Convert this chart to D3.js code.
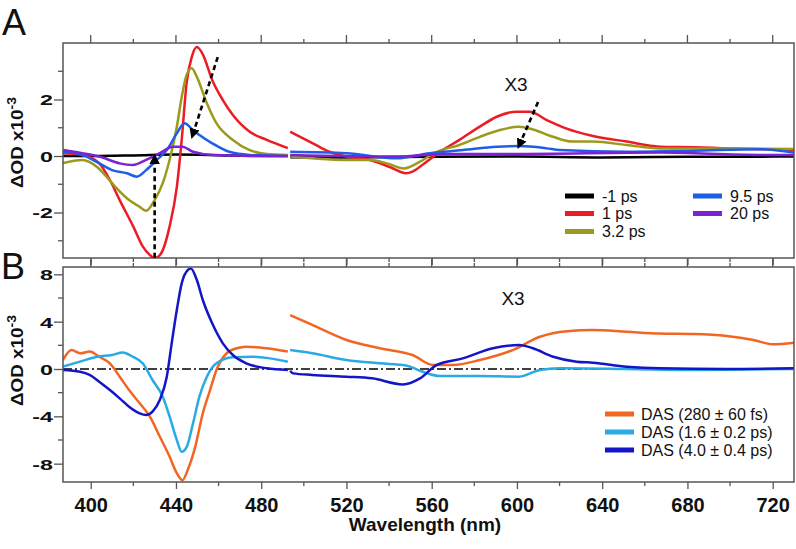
<!DOCTYPE html>
<html><head><meta charset="utf-8">
<script src="https://cdn.jsdelivr.net/npm/d3@7"></script>
<style>body{margin:0;background:#fff}svg{display:block;font-family:"Liberation Sans",Arial,sans-serif}</style>
</head><body><svg id="c" width="796" height="549"></svg>
<script>
// ---------- data ----------
const xDomain = [387, 730];
const xTicksMajor = [400, 440, 480, 520, 560, 600, 640, 680, 720];
const xTicksMinor = [420, 460, 500, 540, 580, 620, 660, 700];
const yTicksA = [-2, 0, 2];
const yMinorA = [-3, -1, 1, 3];
const yTicksB = [-8, -4, 0, 4, 8];
const yMinorB = [-6, -2, 2, 6];

const labelsA = ["-1 ps", "1 ps", "3.2 ps", "9.5 ps", "20 ps"];
const colorsA = ["#000000", "#ec1c24", "#9c9a1c", "#1e5ee6", "#7a22d4"];
const labelsB = ["DAS (280 \u00b1 60 fs)", "DAS (1.6 \u00b1 0.2 ps)", "DAS (4.0 \u00b1 0.4 ps)"];
const colorsB = ["#f26522", "#2aaae2", "#1515c8"];

const sM1 = [[387,0.0],[400,0.0],[420,0.02],[440,0.05],[460,0.03],[480,0.0],[492.5,0.0],null,
  [493.6,-0.04],[520,-0.05],[560,-0.03],[600,-0.02],[640,-0.05],[680,-0.03],[730,-0.02]];
const s1 = [[387,0.1],[395,0.05],[400,-0.05],[404,-0.25],[409,-0.85],[413.6,-1.56],[420,-2.5],[424.4,-3.2],[427.7,-3.5],[430,-3.62],[433,-3.45],[437,-2.5],[440.4,-1.1],[442.7,0.57],[445,2.58],[447.4,3.5],[449.8,3.86],[452.6,3.6],[457,2.69],[462,1.98],[466.7,1.45],[474.6,0.86],[482.6,0.57],[492.5,0.28],null,
  [493.6,0.86],[504,0.46],[512,0.15],[520,-0.02],[531,-0.14],[540,-0.38],[548,-0.61],[551,-0.55],[557.6,-0.2],[564,0.15],[573,0.57],[582.6,1.04],[590.5,1.39],[599.9,1.57],[606,1.57],[614,1.27],[623,0.98],[635.7,0.71],[651.5,0.51],[667,0.33],[683,0.31],[698.5,0.27],[714,0.24],[730,0.21]];
const s32 = [[387,-0.25],[396,-0.14],[403,-0.39],[407.5,-0.74],[412,-1.13],[418,-1.56],[423,-1.8],[426,-1.94],[430,-1.56],[433.8,-0.96],[437,-0.14],[440.4,1.03],[442.7,2.09],[445,2.87],[447.4,3.11],[449.8,2.8],[454.5,1.87],[459,1.16],[466.7,0.57],[474.6,0.21],[482.6,0.07],[492.5,0.04],null,
  [493.6,-0.02],[504,-0.08],[520,-0.14],[531,-0.14],[539,-0.26],[547,-0.44],[554.5,-0.2],[562.4,0.15],[573,0.39],[582.6,0.68],[592,0.92],[601,1.04],[607.5,0.94],[616.9,0.68],[626,0.51],[635.7,0.51],[651.5,0.39],[667,0.27],[683,0.27],[698.5,0.27],[730,0.25]];
const s95 = [[387,0.15],[396,0.04],[404,-0.26],[410,-0.5],[417,-0.61],[421.6,-0.73],[426,-0.5],[431,-0.14],[435.7,0.21],[440.4,0.8],[444,1.16],[448,0.92],[451,0.74],[457,0.45],[465,0.15],[474.6,0.04],[492.5,0.0],null,
  [493.6,0.15],[520,0.1],[543.6,-0.08],[559,0.1],[574.6,0.21],[590.6,0.33],[601,0.35],[614,0.27],[620,0.21],[651.5,0.15],[683,0.19],[714,0.24],[730,0.12]];
const s20 = [[387,0.21],[396,0.1],[404,-0.02],[413.6,-0.26],[419.7,-0.32],[426,-0.14],[432.4,0.1],[438.5,0.33],[443,0.33],[448,0.15],[457,0.04],[492.5,0.0],null,
  [493.6,0.04],[543.6,-0.02],[567,0.07],[598,0.07],[667,0.12],[714,0.04],[730,0.04]];

const dasFast = [[387,0.76],[391,1.6],[395,1.33],[399.5,1.47],[404,1.04],[409,0.48],[413.6,-0.65],[418,-1.78],[423,-2.9],[427.7,-4.0],[432.4,-5.7],[437,-7.4],[440.4,-8.8],[443,-9.4],[445.6,-8.5],[449,-6.6],[452.6,-3.75],[456,-1.78],[459,-0.08],[463.8,1.33],[468.5,1.75],[473,1.89],[482.6,1.75],[492.5,1.47],null,
  [493.6,4.56],[504,3.72],[520,2.45],[535.7,1.75],[551,1.18],[560.6,0.34],[570,0.34],[582.6,0.76],[598,1.6],[610.8,2.73],[623.5,3.2],[635.7,3.3],[651.5,3.15],[667,3.0],[683,2.96],[698.5,2.79],[711,2.45],[720,2.09],[730,2.22]];
const dasMid = [[387,0.2],[395,0.62],[403,1.04],[410,1.18],[415,1.4],[419.7,1.04],[424.4,0.48],[429,-0.93],[433.8,-2.34],[437,-4.0],[440.4,-6.0],[442.7,-7.0],[445,-6.6],[448,-4.6],[451,-2.34],[454.5,-0.65],[459,0.48],[466.7,0.99],[476,1.04],[492.5,0.62],null,
  [493.6,1.6],[504,1.33],[520,0.76],[535.7,0.48],[548,0.3],[554.5,-0.15],[564,-0.6],[582.6,-0.59],[601,-0.65],[610.8,-0.08],[620,0.06],[651.5,0.0],[683,-0.08],[730,0.0]];
const dasSlow = [[387,-0.08],[395,-0.23],[399.5,-0.5],[404,-1.07],[409,-1.78],[413.6,-2.48],[418,-3.19],[423,-3.75],[426,-3.89],[429,-3.6],[432.4,-2.62],[435.7,-0.65],[438,2.17],[440.4,4.99],[442.7,7.24],[445.6,8.37],[447,8.5],[449.8,7.52],[452.6,5.83],[457,3.86],[462,2.17],[466.7,1.18],[473,0.48],[482.6,0.06],[492.5,-0.08],null,
  [493.6,-0.14],[495,-0.37],[504,-0.5],[520,-0.65],[532,-0.79],[546.5,-1.3],[554.5,-0.79],[562.4,0.34],[574.6,0.9],[588.7,1.75],[601,2.03],[607.5,1.75],[617,1.04],[628,0.62],[635.7,0.53],[651.5,0.2],[667,0.06],[698.5,0.0],[730,0.06]];

const seriesA = [sM1, s1, s32, s95, s20];
const seriesB = [dasFast, dasMid, dasSlow];
// arrows: [x0, y0, x1, y1] in data units (tip at x1,y1)
const arrowsA = [[430, -3.6, 430, 0.05], [459.6, 3.5, 447.4, 0.64], [609.9, 1.91, 600.5, 0.28]];

// ---------- layout ----------
const svg = d3.select("#c");
const L = 63, R = 794;
const x = d3.scaleLinear().domain(xDomain).range([L, R]);
const yA = d3.scaleLinear().domain([-3.61, 4.0]).range([258, 43]);
const yB = d3.scaleLinear().domain([-9.55, 8.62]).range([482, 267]);
const frameCol = "#555";
const fmt = d => String(d);

svg.append("defs").append("marker").attr("id", "ah").attr("viewBox", "0 0 10 10")
  .attr("refX", 9).attr("refY", 5).attr("markerWidth", 4).attr("markerHeight", 4.5)
  .attr("orient", "auto").append("path").attr("d", "M0,0 L10,5 L0,10 z").attr("fill", "#000");

function panel(y, series, colors, lineW) {
  const g = svg.append("g");
  const line = d3.line().defined(d => d !== null).x(d => x(d[0])).y(d => y(d[1])).curve(d3.curveMonotoneX);
  const clipId = "clip" + Math.round(y.range()[1]);
  svg.append("clipPath").attr("id", clipId).append("rect")
    .attr("x", L).attr("y", y.range()[1]).attr("width", R - L).attr("height", y.range()[0] - y.range()[1]);
  const lg = g.append("g").attr("clip-path", `url(#${clipId})`);
  series.forEach((s, i) => {
    lg.append("path").datum(s).attr("d", line).attr("fill", "none")
      .attr("stroke", colors[i]).attr("stroke-width", lineW).attr("stroke-linejoin", "round");
  });
  return g;
}

function frame(y, majorY, minorY, showXLabels, titleShift) {
  const y0 = y.range()[0], y1 = y.range()[1];
  const g = svg.append("g");
  g.append("rect").attr("x", L).attr("y", y1).attr("width", R - L).attr("height", y0 - y1)
    .attr("fill", "none").attr("stroke", frameCol).attr("stroke-width", 1.5);
  xTicksMajor.forEach(t => g.append("line").attr("x1", x(t)).attr("x2", x(t)).attr("y1", y1).attr("y2", y1 - 8).attr("stroke", frameCol).attr("stroke-width", 1.3));
  xTicksMinor.forEach(t => g.append("line").attr("x1", x(t)).attr("x2", x(t)).attr("y1", y1).attr("y2", y1 - 4).attr("stroke", frameCol).attr("stroke-width", 1.3));
  const bottomAxis = d3.axisBottom(x).tickValues(xTicksMajor).tickSizeInner(7).tickSizeOuter(0)
    .tickFormat(showXLabels ? fmt : () => "");
  const ba = g.append("g").attr("transform", `translate(0,${y0})`).call(bottomAxis);
  ba.select(".domain").remove();
  ba.selectAll("line").attr("stroke", frameCol).attr("stroke-width", 1.3);
  ba.selectAll("text").attr("font-size", 20).attr("font-weight", "bold").attr("fill", "#111").attr("dy", "1.0em");
  xTicksMinor.forEach(t => g.append("line").attr("x1", x(t)).attr("x2", x(t)).attr("y1", y0).attr("y2", y0 + 4).attr("stroke", frameCol).attr("stroke-width", 1.3));
  const la = g.append("g").attr("transform", `translate(${L},0)`)
    .call(d3.axisLeft(y).tickValues(majorY).tickSizeInner(9).tickSizeOuter(0).tickFormat(fmt));
  la.select(".domain").remove();
  la.selectAll("line").attr("stroke", frameCol).attr("stroke-width", 1.3);
  la.selectAll("text").attr("font-size", 15).attr("font-weight", "bold").attr("fill", "#111")
    .attr("x", null).attr("transform", "translate(-10,0) scale(1.55,1)").attr("dy", "0.36em");
  minorY.forEach(t => g.append("line").attr("x1", L).attr("x2", L - 5).attr("y1", y(t)).attr("y2", y(t)).attr("stroke", frameCol).attr("stroke-width", 1.3));
  const cy = (y0 + y1) / 2 - titleShift;
  const tt = g.append("text").attr("transform", `translate(23,${cy}) rotate(-90) scale(1.18,1)`)
    .attr("text-anchor", "middle").attr("font-size", 16).attr("font-weight", "bold").attr("fill", "#111");
  tt.append("tspan").text("\u0394OD x10");
  tt.append("tspan").attr("font-size", 12).attr("dy", -7).text("-3");
}

svg.append("line").attr("x1", x(387)).attr("x2", x(730)).attr("y1", yB(0)).attr("y2", yB(0))
  .attr("stroke", "#000").attr("stroke-width", 1.6).attr("stroke-dasharray", "9,3,2,3");

panel(yA, seriesA, colorsA, 2.5);
panel(yB, seriesB, colorsB, 2.5);
frame(yA, yTicksA, yMinorA, false, 8);
frame(yB, yTicksB, yMinorB, true, 14);

arrowsA.forEach(a => {
  svg.append("line").attr("x1", x(a[0])).attr("y1", yA(a[1])).attr("x2", x(a[2])).attr("y2", yA(a[3]))
    .attr("stroke", "#000").attr("stroke-width", 2.6).attr("stroke-dasharray", "5,3.5")
    .attr("marker-end", "url(#ah)");
});

svg.append("text").attr("x", 2).attr("y", 35).attr("font-size", 36).attr("fill", "#111").text("A");
svg.append("text").attr("x", 1).attr("y", 279).attr("font-size", 36).attr("fill", "#111").text("B");
svg.append("text").attr("x", 516).attr("y", 91).attr("text-anchor", "middle").attr("font-size", 19).attr("fill", "#111").text("X3");
svg.append("text").attr("x", 513).attr("y", 305).attr("text-anchor", "middle").attr("font-size", 19).attr("fill", "#111").text("X3");
svg.append("text").attr("x", 425).attr("y", 531).attr("text-anchor", "middle").attr("font-size", 19)
  .attr("font-weight", "bold").attr("fill", "#111").text("Wavelength (nm)");

const legPosA = [[565, 196], [565, 213.5], [565, 231.5], [693, 196], [693, 213.5]];
labelsA.forEach((lab, i) => {
  const [lx, ly] = legPosA[i];
  svg.append("line").attr("x1", lx).attr("x2", lx + 29).attr("y1", ly).attr("y2", ly)
    .attr("stroke", colorsA[i]).attr("stroke-width", 5);
  svg.append("text").attr("x", lx + 37).attr("y", ly).attr("dy", "0.35em").attr("font-size", 16).attr("fill", "#111").text(lab);
});
labelsB.forEach((lab, i) => {
  const ly = 414 + i * 18;
  svg.append("line").attr("x1", 605).attr("x2", 634).attr("y1", ly).attr("y2", ly)
    .attr("stroke", colorsB[i]).attr("stroke-width", 5);
  svg.append("text").attr("x", 641).attr("y", ly).attr("dy", "0.35em").attr("font-size", 16).attr("fill", "#111").text(lab);
});
</script></body></html>
